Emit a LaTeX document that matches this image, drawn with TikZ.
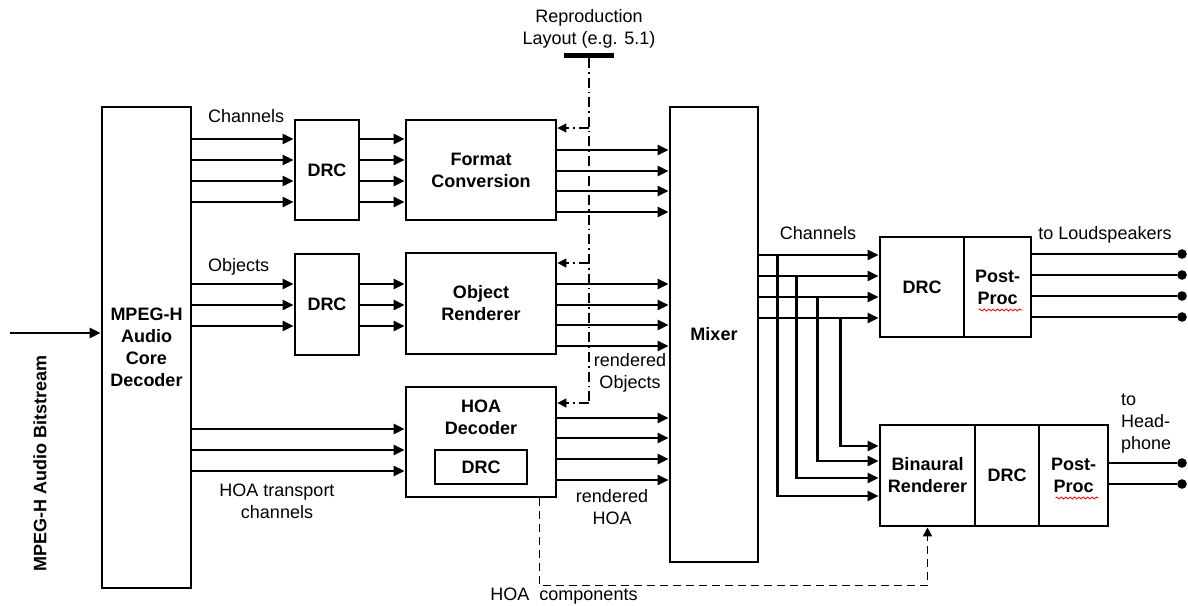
\documentclass[tikz,border=0pt]{standalone}
\usepackage{fontspec}
\setmainfont{Liberation Sans}
\usetikzlibrary{positioning,arrows.meta,decorations.pathmorphing}

\begin{document}
\begin{tikzpicture}[x=0.5pt,y=-0.5pt,
  font=\fontsize{9}{11}\selectfont,
  blk/.style={draw,line width=1.4pt,inner sep=1pt,align=center,font=\fontsize{9}{11}\selectfont\bfseries},
  sig/.style={line width=1.25pt,-{Triangle[length=5.5pt,width=5pt]}},
  lay/.style={line width=0.8pt,dash pattern=on 5pt off 2pt on 0.8pt off 2pt},
  layarr/.style={lay,-{Triangle[length=4.5pt,width=4.5pt]}},
  hoacomp/.style={line width=0.9pt,dash pattern=on 4pt off 2.5pt,-{Triangle[length=4.5pt,width=4.5pt]}},
  dot/.style={circle,fill,inner sep=0pt,minimum size=4.8pt},
  squig/.style={red,line width=0.4pt,decorate,decoration={snake,amplitude=0.5pt,segment length=2.2pt}}]
\useasboundingbox (0,0) rectangle (1188,605);

\node[blk,minimum width=44.5pt,minimum height=240.5pt] (core) at (146.5,347.5) {MPEG-H\\Audio\\Core\\Decoder};
\node[blk,minimum width=32pt,minimum height=50pt] (drcA) at (327,170) {DRC};
\node[blk,minimum width=75pt,minimum height=50pt] (fmt) at (481,170) {Format\\Conversion};
\node[blk,minimum width=32pt,minimum height=50.5pt] (drcB) at (327,304.5) {DRC};
\node[blk,minimum width=75pt,minimum height=50.5pt] (objr) at (481,303.5) {Object\\Renderer};
\node[blk,minimum width=75pt,minimum height=55pt] (hoa) at (481,442) {};
\node[font=\fontsize{9}{11}\selectfont\bfseries,align=center] (hoatxt) at (481,417.5) {HOA\\Decoder};
\node[blk,minimum width=46pt,minimum height=17pt] (hdrc) at (481,467) {DRC};
\node[blk,minimum width=44pt,minimum height=227.5pt] (mixer) at (714,334.5) {Mixer};
\node[blk,minimum width=42pt,minimum height=50pt] (drcC) at (922,287) {DRC};
\node[blk,minimum width=33.5pt,minimum height=50pt] (ppA) at (997.5,287) {Post-\\Proc};
\node[blk,minimum width=47.5pt,minimum height=50.5pt] (binr) at (927.5,475.5) {Binaural\\Renderer};
\node[blk,minimum width=32pt,minimum height=50.5pt] (drcD) at (1007,475.5) {DRC};
\node[blk,minimum width=34.5pt,minimum height=50.5pt] (ppB) at (1073.5,475.5) {Post-\\Proc};

\node[anchor=west] (chlab) at (201,116) {Channels};
\node[anchor=west] (objlab) at (201,267) {Objects};
\node[align=center] (hoatr) at (277,501) {HOA transport\\channels};
\node[align=center] (rendobj) at (630,373) {rendered\\Objects};
\node[align=center] (rendhoa) at (612,507) {rendered\\HOA};
\node (hoacomplab) at (564,596) {HOA\ \ components};
\node[align=center] (repro) at (589,29) {Reproduction\\Layout (e.g. 5.1)};
\node[fill,inner sep=0pt,minimum width=25pt,minimum height=2.5pt] (bar) at (589,55) {};
\node (chlabR) at (818,233) {Channels};
\node (lslab) at (1105,235) {to Loudspeakers};
\node[align=left,anchor=west] (hplab) at (1114,424) {to\\Head-\\phone};
\node[rotate=90,font=\fontsize{9}{11}\selectfont\bfseries] (bslab) at (40,463) {MPEG-H Audio Bitstream};

\coordinate (bsin) at (10,333);
\draw[sig] (bsin) -- (core.west |- bsin);
\foreach \y in {139,160,181,202} {
  \draw[sig] (core.east |- 0,\y) -- (drcA.west |- 0,\y);
  \draw[sig] (drcA.east |- 0,\y) -- (fmt.west |- 0,\y);
}
\foreach \y in {150,171,191,212}
  \draw[sig] (fmt.east |- 0,\y) -- (mixer.west |- 0,\y);
\foreach \y in {284,305,326} {
  \draw[sig] (core.east |- 0,\y) -- (drcB.west |- 0,\y);
  \draw[sig] (drcB.east |- 0,\y) -- (objr.west |- 0,\y);
}
\foreach \y in {284,305,325,346}
  \draw[sig] (objr.east |- 0,\y) -- (mixer.west |- 0,\y);
\foreach \y in {429,450,471}
  \draw[sig] (core.east |- 0,\y) -- (hoa.west |- 0,\y);
\foreach \y in {418,438,459,480}
  \draw[sig] (hoa.east |- 0,\y) -- (mixer.west |- 0,\y);

\coordinate (layend) at (bar.south |- 0,403);
\draw[lay] (bar.south) -- (layend);
\foreach \b/\y in {fmt/128,objr/263,hoa/403}
  \draw[layarr] (bar.south |- 0,\y) -- (\b.east |- 0,\y);

\draw[hoacomp] ([xshift=-9pt]hoa.south east) -- ++(0,87) -| (binr.south);

\foreach \y/\dx/\yb in {255/18/496,276/37/478,297/58/461,318/81/446} {
  \draw[sig] (mixer.east |- 0,\y) -- (drcC.west |- 0,\y);
  \draw[sig] (mixer.east |- 0,\y) -- ++(\dx,0) |- (binr.west |- 0,\yb);
}
\foreach \y [count=\i] in {254,275,296,317} {
  \node[dot] (ls\i) at (1182,\y) {};
  \draw[line width=1.25pt] (ppA.east |- ls\i) -- (ls\i);
}
\foreach \y [count=\i] in {463,484} {
  \node[dot] (hp\i) at (1182,\y) {};
  \draw[line width=1.25pt] (ppB.east |- hp\i) -- (hp\i);
}

\draw[squig] ([shift={(-19,23)}]ppA.center) -- ++(44,0);
\draw[squig] ([shift={(-18,22.5)}]ppB.center) -- ++(43,0);
\end{tikzpicture}
\end{document}
